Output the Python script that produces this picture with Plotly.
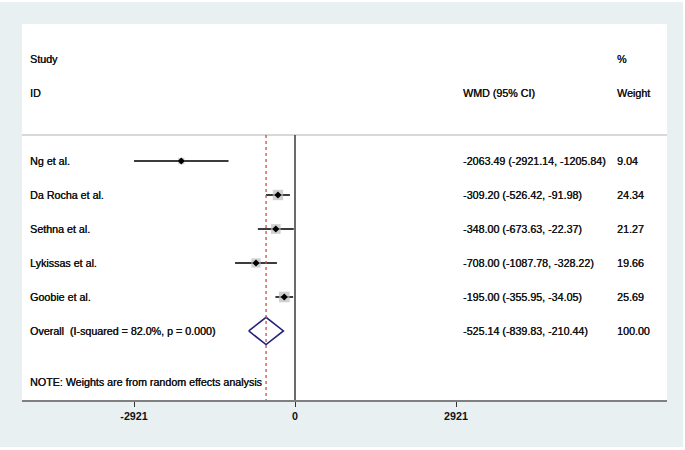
import plotly.graph_objects as go

studies = ["Ng et al.", "Da Rocha et al.", "Sethna et al.", "Lykissas et al.", "Goobie et al."]
wmd = [-2063.49, -309.20, -348.00, -708.00, -195.00]
ci_low = [-2921.14, -526.42, -673.63, -1087.78, -355.95]
ci_high = [-1205.84, -91.98, -22.37, -328.22, -34.05]
weights = [9.04, 24.34, 21.27, 19.66, 25.69]

overall_label = "Overall  (I-squared = 82.0%, p = 0.000)"
overall_wmd = -525.14
overall_low = -839.83
overall_high = -210.44
overall_weight = 100.00

note_text = "NOTE: Weights are from random effects analysis"
tick_vals = [-2921, 0, 2921]
tick_text = ["-2921", "0", "2921"]

FONT = "Liberation Sans, Arial, sans-serif"
FS = 10.7
TXT = "#111111"
SHADOW = "0.35px 0px 0px #111111"

rows = list(range(len(studies)))
overall_row = len(studies)
note_row = overall_row + 1.5

fig = go.Figure()

# CI lines
for i in rows:
    fig.add_trace(go.Scatter(x=[ci_low[i], ci_high[i]], y=[i, i], mode="lines",
                             line=dict(color="#3c3c3c", width=2), hoverinfo="skip", showlegend=False))
# weight boxes
fig.add_trace(go.Scatter(x=wmd, y=rows, mode="markers",
                         marker=dict(symbol="square", color="#bcbcbc",
                                     size=[2.1 * w ** 0.5 for w in weights], line=dict(width=0)),
                         hoverinfo="skip", showlegend=False))
# point estimates
fig.add_trace(go.Scatter(x=wmd, y=rows, mode="markers",
                         marker=dict(symbol="diamond", color="black", size=5.5, line=dict(width=0)),
                         hoverinfo="skip", showlegend=False))
# overall diamond
h = 0.4
fig.add_trace(go.Scatter(x=[overall_low, overall_wmd, overall_high, overall_wmd, overall_low],
                         y=[overall_row, overall_row - h, overall_row, overall_row + h, overall_row],
                         mode="lines", line=dict(color="#23237a", width=1.6),
                         hoverinfo="skip", showlegend=False))

header_row = -0.765
shapes = [
    # outer background
    dict(type="rect", xref="paper", yref="paper", x0=-22 / 645, x1=(683 - 22) / 645,
         y0=(450 - 447 - 50) / 376, y1=1 + 22 / 376, fillcolor="#e8f0f2", line=dict(width=0), layer="below"),
    # white panel
    dict(type="rect", xref="paper", yref="paper", x0=0, x1=1, y0=0, y1=1,
         fillcolor="white", line=dict(width=0), layer="below"),
    # header separator
    dict(type="line", xref="paper", yref="y", x0=0, x1=1, y0=header_row, y1=header_row,
         line=dict(color="#d8d8d8", width=2)),
    # null line
    dict(type="line", xref="x", yref="y", x0=0, x1=0, y0=header_row, y1=7.03,
         line=dict(color="#3a3a3a", width=1.5)),
    # overall dashed line
    dict(type="line", xref="x", yref="y", x0=overall_wmd, x1=overall_wmd, y0=header_row, y1=7.03,
         line=dict(color="#c8504d", width=1.3, dash="3px,3px")),
]

ann = []
def txt(x, y, s):
    ann.append(dict(x=x, y=y, xref="paper", yref="y", text=s, showarrow=False,
                    xanchor="left", yanchor="middle",
                    font=dict(family=FONT, size=FS, color=TXT, shadow=SHADOW)))

xl = (27.5 - 22) / 645
xm = (460.5 - 22) / 645
xr = (614.5 - 22) / 645
txt(xl, -3, "Study")
txt(xl, -2, "ID")
txt(xm, -2, "WMD (95% CI)")
txt(xr, -3, "%")
txt(xr, -2, "Weight")
for i in rows:
    txt(xl, i, studies[i])
    txt(xm, i, f"{wmd[i]:.2f} ({ci_low[i]:.2f}, {ci_high[i]:.2f})")
    txt(xr, i, f"{weights[i]:.2f}")
txt(xl, overall_row, overall_label)
txt(xm, overall_row, f"{overall_wmd:.2f} ({overall_low:.2f}, {overall_high:.2f})")
txt(xr, overall_row, f"{overall_weight:.2f}")
txt(xl, note_row, note_text)

fig.update_layout(
    width=685, height=450,
    margin=dict(l=22, r=18, t=24, b=50),
    paper_bgcolor="white", plot_bgcolor="rgba(0,0,0,0)",
    shapes=shapes, annotations=ann, showlegend=False,
    xaxis=dict(range=[-4953, 6749], tickvals=tick_vals, ticktext=tick_text,
               showgrid=False, zeroline=False, showline=True, linecolor="#808080", linewidth=2,
               ticks="outside", ticklen=5, tickcolor="#333333", tickwidth=1.2,
               tickfont=dict(family=FONT, size=FS, color=TXT, weight="bold"), fixedrange=True),
    yaxis=dict(range=[7.03, -4.03], showgrid=False, zeroline=False, showticklabels=False,
               showline=False, fixedrange=True),
)

fig.write_html("out.html", config=dict(displayModeBar=False),
               post_script="document.body.style.margin='0px';document.body.style.overflow='hidden';")
